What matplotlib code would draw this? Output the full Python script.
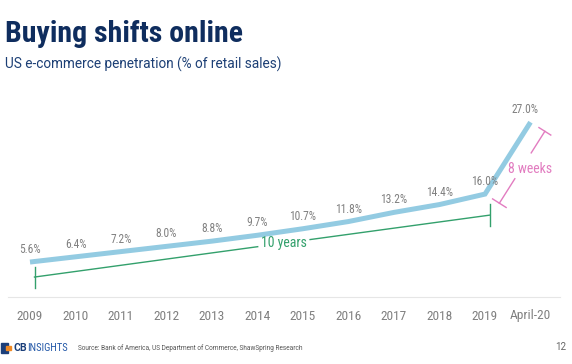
import matplotlib
matplotlib.use("Agg")
import matplotlib.pyplot as plt
import numpy as np
from matplotlib import font_manager as fm
from matplotlib.lines import Line2D
from matplotlib.patches import Rectangle
from matplotlib.transforms import IdentityTransform

years = ["2009", "2010", "2011", "2012", "2013", "2014", "2015", "2016",
         "2017", "2018", "2019", "April-20"]
penetration = [5.6, 6.4, 7.2, 8.0, 8.8, 9.7, 10.7, 11.8, 13.2, 14.4, 16.0, 27.0]
labels = [f"{v:.1f}%" for v in penetration]

W, H = 572, 364

names = {f.name for f in fm.fontManager.ttflist}
COND = "Roboto Condensed" if "Roboto Condensed" in names else "Roboto"
have_cond = COND == "Roboto Condensed"
plt.rcParams["font.family"] = ["Roboto", "DejaVu Sans"]

NAVY = "#0f2d5e"
GRAY = "#808080"
BLUE = "#93cbe2"
GREEN = "#33a06c"
PINK = "#e27cc0"

fig = plt.figure(figsize=(W / 100, H / 100), dpi=100)


def fx(px):
    return px / W


def fy(py):
    return 1 - py / H


# axes from px 8..560 horizontally, 100..297 vertically
ax = fig.add_axes([fx(8), fy(297), fx(552), 197 / H])
x = np.arange(len(years))
ax.set_xlim((8 - 30) / 45.5, (560 - 30) / 45.5)
ax.set_ylim(0.25, 30.4)

ax.plot(x, penetration, color=BLUE, lw=3.6, solid_capstyle="butt",
        solid_joinstyle="miter", zorder=3)

for xi, v, lab in zip(x, penetration, labels):
    dx = -4 if xi == len(x) - 1 else 0
    ax.annotate(lab, (xi, v), xytext=(dx, 9), textcoords="offset points",
                ha="center", va="center", color=GRAY,
                fontsize=8.3 if have_cond else 7.8, family=COND)

ax.set_xticks(x)
ax.set_xticklabels(years, family=COND, fontsize=9.6 if have_cond else 8.6,
                   color=GRAY)
ax.tick_params(axis="x", length=0, pad=9)
ax.set_yticks([])
for s in ["top", "right", "left"]:
    ax.spines[s].set_visible(False)
ax.spines["bottom"].set_color("#e6e6e6")
ax.spines["bottom"].set_linewidth(0.8)

fig.canvas.draw()


def pt(i):
    return np.array(ax.transData.transform((x[i], penetration[i])))


def seg(p, q, color, lw=1.0):
    fig.add_artist(Line2D([p[0], q[0]], [p[1], q[1]], color=color, lw=lw,
                          transform=IdentityTransform()))


# 10 years bracket
a = pt(0) + np.array([4.5, -15])
b = pt(10) + np.array([5, -21])
seg(a, a + (b - a) * 0.49, GREEN)
seg(a + (b - a) * 0.605, b, GREEN)
seg(a + np.array([0, 10]), a + np.array([0, -11]), GREEN)
seg(b + np.array([0, 11]), b + np.array([0, -11]), GREEN)
c = a + (b - a) * 0.548
fig.text(c[0] / W, c[1] / H, "10 years", ha="center", va="center",
         color=GREEN, fontsize=10 if have_cond else 9, family=COND)

# 8 weeks bracket
p, q = pt(10), pt(11)
u = (q - p) / np.linalg.norm(q - p)
n = np.array([u[1], -u[0]])
a = p + 17 * n
b = q + 17 * n
seg(a, a + (b - a) * 0.34, PINK)
seg(a + (b - a) * 0.70, b, PINK)
seg(a - 8 * n, a + 8 * n, PINK)
seg(b - 7 * n, b + 7 * n, PINK)
c = a + (b - a) * 0.5 + np.array([8, -2])
fig.text(c[0] / W, c[1] / H, "8 weeks", ha="center", va="center",
         color=PINK, fontsize=10 if have_cond else 9, family=COND)

# header
fig.text(fx(5), fy(34), "Buying shifts online", ha="left", va="center",
         color=NAVY, fontsize=21.5 if have_cond else 18, fontweight="bold",
         family=COND)
fig.text(fx(5), fy(64), "US e-commerce penetration (% of retail sales)",
         ha="left", va="center", color="#1c3f75", fontsize=9.8)

# footer
fig.add_artist(Rectangle((fx(1), fy(353)), fx(7), 10 / H, color="#1b3f7a",
                         transform=fig.transFigure))
fig.add_artist(Rectangle((fx(6), fy(350)), fx(5), 4 / H, color="#f08a24",
                         transform=fig.transFigure))
cb = fig.text(fx(13), fy(348), "CB", ha="left", va="center",
              color="#1b3f7a", fontsize=7.6, fontweight="bold")
fig.canvas.draw()
ext = cb.get_window_extent()
fig.text(ext.x1 / W, fy(348), "INSIGHTS", ha="left", va="center",
         color="#2358a8", fontsize=7.6, family=COND)
fig.text(fx(78), fy(348), "Source: Bank of America, US Department of "
         "Commerce, ShawSpring Research", ha="left", va="center",
         color="#555555", fontsize=4.7)
fig.text(fx(566), fy(347), "12", ha="right", va="center", color="#666666",
         fontsize=7)

fig.savefig("out.png", dpi=100)
